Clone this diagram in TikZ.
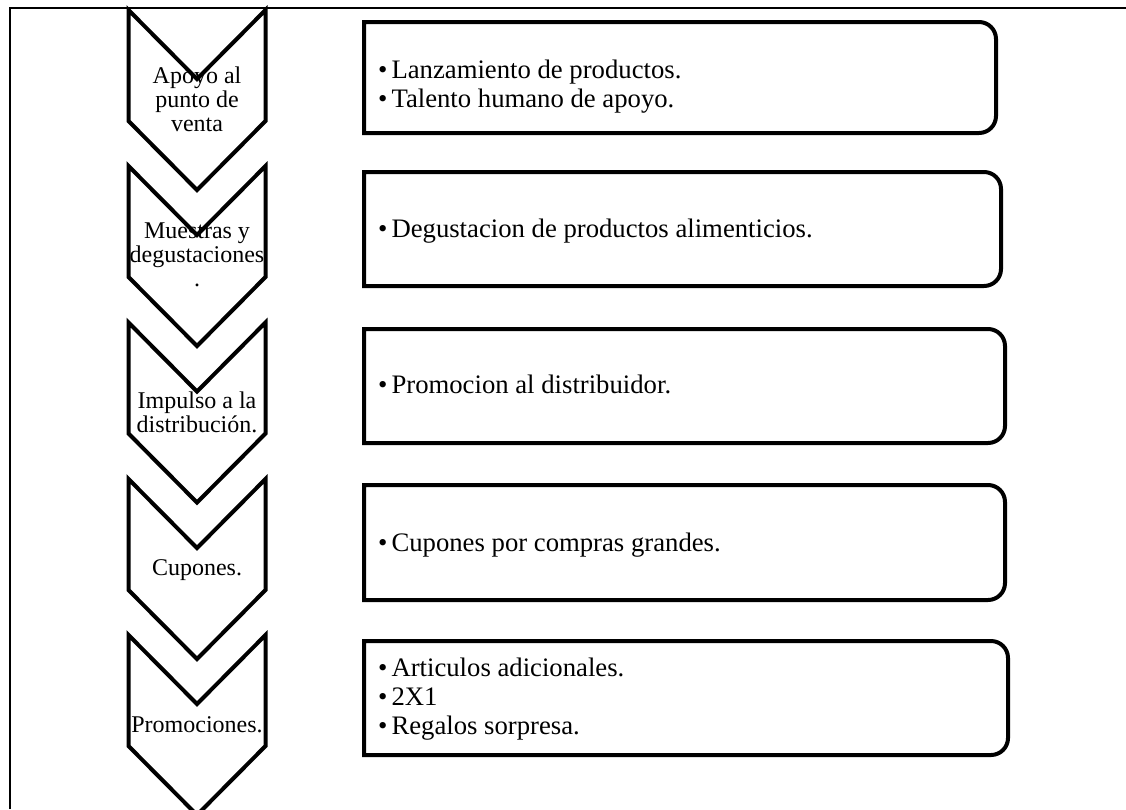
\documentclass[tikz,border=0pt]{standalone}
\usepackage{fontspec}
\setmainfont{Liberation Serif}
\begin{document}
\begin{tikzpicture}[x=1pt,y=-1pt,
    chev/.style={line width=4pt},
    listbox/.style={line width=4pt},
    chevtext/.style={align=center,inner sep=0pt,anchor=base,font=\fontsize{24}{24}\selectfont},
    boxtext/.style={align=left,inner sep=0pt,anchor=base west,font=\fontsize{26.7}{29}\selectfont}]
        \useasboundingbox (0,0) rectangle (1126,809);
        \clip (0,0) rectangle (1126,809);
        \draw[line width=1.3pt] (10,809) -- (10,8) -- (1126,8);
        \draw[chev] (128.5,10) -- (197,79) -- (265.5,10) -- (265.5,121) -- (197,190) -- (128.5,121) -- cycle;
        \draw[chev] (128.5,166) -- (197,235) -- (265.5,166) -- (265.5,277) -- (197,346) -- (128.5,277) -- cycle;
        \draw[chev] (128.5,322.5) -- (197,391.5) -- (265.5,322.5) -- (265.5,433.5) -- (197,502.5) -- (128.5,433.5) -- cycle;
        \draw[chev] (128.5,479) -- (197,548) -- (265.5,479) -- (265.5,590) -- (197,659) -- (128.5,590) -- cycle;
        \draw[chev] (128.5,635) -- (197,704) -- (265.5,635) -- (265.5,746) -- (197,815) -- (128.5,746) -- cycle;
        \node[chevtext] (a) at (197,131) {Apoyo al\\punto de\\venta};
        \node[chevtext] (b) at (197,286) {Muestras y\\degustaciones\\.};
        \node[chevtext] (c) at (197,432) {Impulso a la\\distribución.};
        \node[chevtext] (d) at (197,575) {Cupones.};
        \node[chevtext] (e) at (197,732) {Promociones.};
        \draw[listbox] (364,22) [rounded corners=17pt] -- (996,22) -- (996,133) [sharp corners] -- (364,133) -- cycle;
        \draw[listbox] (364,172) [rounded corners=17pt] -- (1001,172) -- (1001,286) [sharp corners] -- (364,286) -- cycle;
        \draw[listbox] (364,329) [rounded corners=17pt] -- (1005,329) -- (1005,443) [sharp corners] -- (364,443) -- cycle;
        \draw[listbox] (364,485) [rounded corners=17pt] -- (1005,485) -- (1005,600) [sharp corners] -- (364,600) -- cycle;
        \draw[listbox] (364,641) [rounded corners=17pt] -- (1008,641) -- (1008,755) [sharp corners] -- (364,755) -- cycle;
        \node[boxtext] (ta) at (378,107) {•\hspace{4pt}Lanzamiento de productos.\\•\hspace{4pt}Talento humano de apoyo.};
        \node[boxtext] (tb) at (378,237) {•\hspace{4pt}Degustacion de productos alimenticios.};
        \node[boxtext] (tc) at (378,393) {•\hspace{4pt}Promocion al distribuidor.};
        \node[boxtext] (td) at (378,551) {•\hspace{4pt}Cupones por compras grandes.};
        \node[boxtext] (te) at (378,734) {•\hspace{4pt}Articulos adicionales.\\•\hspace{4pt}2X1\\•\hspace{4pt}Regalos sorpresa.};
      \end{tikzpicture}
\end{document}
